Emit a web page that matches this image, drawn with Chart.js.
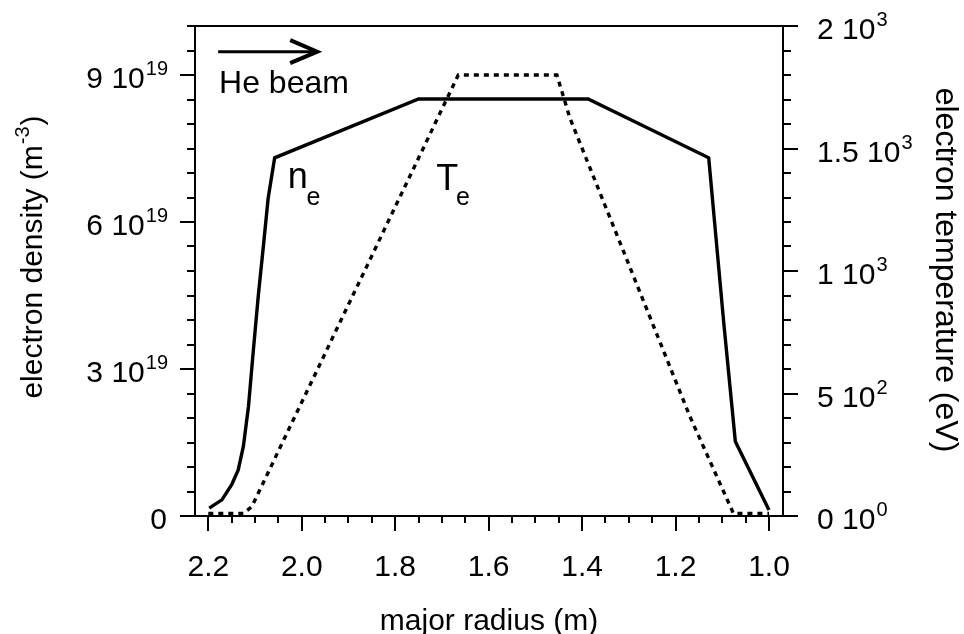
<!DOCTYPE html>
<html lang="en">
<head>
    <meta charset="UTF-8">
    <title>Electron density and temperature profiles</title>
    <script src="https://cdn.jsdelivr.net/npm/chart.js"></script>
    <style>
        body { margin: 0; background: #fff; }
        #wrap { width: 964px; height: 634px; position: relative; }
    </style>
</head>
<body>
<div id="wrap"><canvas id="profileChart"></canvas></div>
<script>
// electron density, in units of 1e19 m^-3, against major radius (m)
const neRadius = [2.198, 2.171, 2.150, 2.136, 2.125, 2.114, 2.104, 2.093, 2.082, 2.072, 2.058, 1.750, 1.387, 1.129, 1.097, 1.072, 1.000];
const neValues = [0.16, 0.33, 0.64, 0.94, 1.42, 2.24, 3.34, 4.50, 5.52, 6.48, 7.31, 8.51, 8.51, 7.31, 3.96, 1.52, 0.12];

// electron temperature (eV) against major radius (m)
const teRadius = [2.200, 2.125, 2.107, 1.665, 1.454, 1.426, 1.169, 1.076, 1.000];
const teValues = [10, 10, 38, 1800, 1800, 1624, 405, 10, 10];

// tick labels
const xTickValues = [2.2, 2.0, 1.8, 1.6, 1.4, 1.2, 1.0];
const xTickLabels = ['2.2', '2.0', '1.8', '1.6', '1.4', '1.2', '1.0'];
const neTickValues = [0, 3, 6, 9];
const neTickMant = ['0', '3 10', '6 10', '9 10'];
const neTickExp = ['', '19', '19', '19'];
const teTickValues = [0, 500, 1000, 1500, 2000];
const teTickMant = ['0 10', '5 10', '1 10', '1.5 10', '2 10'];
const teTickExp = ['0', '2', '3', '3', '3'];

const FONT = '"Liberation Sans", Arial, Helvetica, sans-serif';

function toPoints(xs, ys) {
    return xs.map((x, i) => ({ x: x, y: ys[i] }));
}

// draws a run of text pieces [text, fontSize, rise, gap] starting at x
function drawRich(ctx, parts, x, y, align) {
    let total = 0;
    const widths = parts.map(p => {
        ctx.font = p[1] + 'px ' + FONT;
        const w = ctx.measureText(p[0]).width + (p[3] || 0);
        total += w;
        return w;
    });
    let cx = x;
    if (align === 'right') cx = x - total;
    if (align === 'center') cx = x - total / 2;
    ctx.textAlign = 'left';
    ctx.textBaseline = 'alphabetic';
    parts.forEach((p, i) => {
        ctx.font = p[1] + 'px ' + FONT;
        ctx.fillText(p[0], cx + (p[3] || 0), y - p[2]);
        cx += widths[i];
    });
}

const axesPlugin = {
    id: 'axesPlugin',
    afterDraw(chart) {
        const ctx = chart.ctx;
        const a = chart.chartArea;
        const xs = chart.scales.x, yl = chart.scales.y, yr = chart.scales.y2;
        ctx.save();
        ctx.strokeStyle = '#000';
        ctx.fillStyle = '#000';
        ctx.lineWidth = 2;
        ctx.lineCap = 'butt';

        // top frame line
        ctx.beginPath();
        ctx.moveTo(a.left - 1, a.top);
        ctx.lineTo(a.right + 1, a.top);
        ctx.stroke();

        // x ticks every 0.05, labelled every 0.2
        ctx.beginPath();
        for (let k = 20; k <= 44; k++) {
            const px = Math.round(xs.getPixelForValue(k * 0.05));
            const len = (k % 4 === 0) ? 15 : 7;
            ctx.moveTo(px, a.bottom);
            ctx.lineTo(px, a.bottom + len);
        }
        // left ticks every 0.5e19
        for (let k = 0; k <= 20; k++) {
            const py = Math.round(yl.getPixelForValue(k * 0.5));
            const len = (k % 6 === 0) ? 15 : 8;
            ctx.moveTo(a.left, py);
            ctx.lineTo(a.left - len, py);
        }
        // right ticks every 100 eV
        for (let k = 0; k <= 20; k++) {
            const py = Math.round(yr.getPixelForValue(k * 100));
            const len = (k % 5 === 0) ? 15 : 8;
            ctx.moveTo(a.right, py);
            ctx.lineTo(a.right + len, py);
        }
        ctx.stroke();

        // tick labels
        xTickValues.forEach((v, i) => {
            drawRich(ctx, [[xTickLabels[i], 30, 0]], xs.getPixelForValue(v), 576, 'center');
        });
        neTickValues.forEach((v, i) => {
            const py = yl.getPixelForValue(v);
            drawRich(ctx, [[neTickMant[i], 30, 0], [neTickExp[i], 20, 13, 1]], 168, py + 13, 'right');
        });
        teTickValues.forEach((v, i) => {
            const py = yr.getPixelForValue(v);
            drawRich(ctx, [[teTickMant[i], 30, 0], [teTickExp[i], 20, 13, 1]], 817, py + 13, 'left');
        });

        // axis titles
        drawRich(ctx, [['major radius (m)', 30, 0]], (a.left + a.right) / 2, 630, 'center');

        ctx.save();
        ctx.translate(42, 257);
        ctx.rotate(-Math.PI / 2);
        drawRich(ctx, [['electron density (m', 30, 0], ['-3', 20, 13, 1], [')', 30, 0, 1]], 0, 0, 'center');
        ctx.restore();

        ctx.save();
        ctx.translate(936, 270);
        ctx.rotate(Math.PI / 2);
        drawRich(ctx, [['electron temperature (eV)', 32, 0]], 0, 0, 'center');
        ctx.restore();

        // He beam arrow
        const ax0 = xs.getPixelForValue(2.179), ax1 = xs.getPixelForValue(1.967);
        const ay = yl.getPixelForValue(9.476);
        ctx.lineWidth = 3;
        ctx.beginPath();
        ctx.moveTo(ax0, ay);
        ctx.lineTo(ax1 - 2, ay);
        ctx.stroke();
        ctx.lineWidth = 4;
        ctx.lineJoin = 'miter';
        ctx.beginPath();
        ctx.moveTo(ax1 - 27, ay - 11.5);
        ctx.lineTo(ax1, ay);
        ctx.lineTo(ax1 - 27, ay + 11.5);
        ctx.stroke();

        drawRich(ctx, [['He beam', 32, 0]], xs.getPixelForValue(2.177), yl.getPixelForValue(8.64), 'left');

        // curve labels
        drawRich(ctx, [['n', 36, 0]], xs.getPixelForValue(2.030), yl.getPixelForValue(6.69), 'left');
        drawRich(ctx, [['e', 25, 0]], xs.getPixelForValue(1.990), yl.getPixelForValue(6.35), 'left');
        drawRich(ctx, [['T', 36, 0]], xs.getPixelForValue(1.712), yl.getPixelForValue(6.66), 'left');
        drawRich(ctx, [['e', 25, 0]], xs.getPixelForValue(1.670), yl.getPixelForValue(6.35), 'left');

        ctx.restore();
    }
};

const ctx = document.getElementById('profileChart').getContext('2d');
new Chart(ctx, {
    type: 'line',
    data: {
        datasets: [{
            label: 'n_e',
            data: toPoints(neRadius, neValues),
            yAxisID: 'y',
            borderColor: '#000',
            borderWidth: 3.4,
            pointRadius: 0,
            tension: 0,
            fill: false
        }, {
            label: 'T_e',
            data: toPoints(teRadius, teValues),
            yAxisID: 'y2',
            borderColor: '#000',
            borderWidth: 3.4,
            borderDash: [5, 5],
            pointRadius: 0,
            tension: 0,
            fill: false
        }]
    },
    options: {
        responsive: true,
        maintainAspectRatio: false,
        animation: false,
        devicePixelRatio: 1,
        layout: { padding: { left: 195, right: 181, top: 26, bottom: 118 } },
        plugins: {
            legend: { display: false },
            tooltip: { enabled: false }
        },
        scales: {
            x: {
                type: 'linear',
                reverse: true,
                min: 0.970,
                max: 2.2285,
                grid: { display: false },
                ticks: { display: false },
                border: { display: true, color: '#000', width: 2 },
                afterFit: s => { s.height = 0; }
            },
            y: {
                type: 'linear',
                position: 'left',
                min: 0,
                max: 10,
                grid: { display: false },
                ticks: { display: false },
                border: { display: true, color: '#000', width: 2 },
                afterFit: s => { s.width = 0; }
            },
            y2: {
                type: 'linear',
                position: 'right',
                min: 0,
                max: 2000,
                grid: { display: false },
                ticks: { display: false },
                border: { display: true, color: '#000', width: 2 },
                afterFit: s => { s.width = 0; }
            }
        }
    },
    plugins: [axesPlugin]
});
</script>
</body>
</html>
